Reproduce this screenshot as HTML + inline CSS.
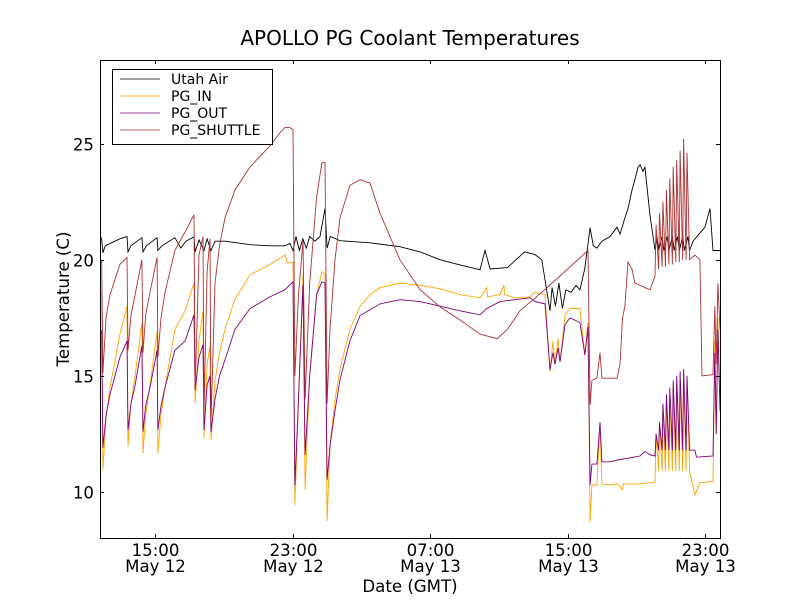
<!DOCTYPE html>
<html><head><meta charset="utf-8"><style>
body{margin:0;background:#fff;}
svg{display:block;font-family:"DejaVu Sans","Liberation Sans",sans-serif;}
</style></head><body>
<svg id="chart" width="800" height="600">
<rect width="800" height="600" fill="#fff"/>
<text x="410" y="45" font-size="20" text-anchor="middle">APOLLO PG Coolant Temperatures</text>
<g id="plot"></g>
<g id="axes"></g>
<text x="410" y="592" font-size="16.6" text-anchor="middle">Date (GMT)</text>
<text transform="translate(69,299) rotate(-90)" font-size="16.6" text-anchor="middle">Temperature (C)</text>
<g>
<rect x="112.5" y="69.5" width="160" height="75" fill="#fff" stroke="#000" stroke-width="1"/>
<line x1="120" x2="160" y1="79" y2="79" stroke="#000" stroke-width="0.8"/>
<text x="171" y="84" font-size="14">Utah Air</text>
<line x1="120" x2="160" y1="96" y2="96" stroke="#ffa500" stroke-width="0.8"/>
<text x="171" y="101" font-size="14">PG_IN</text>
<line x1="120" x2="160" y1="113" y2="113" stroke="#800080" stroke-width="0.8"/>
<text x="171" y="118" font-size="14">PG_OUT</text>
<line x1="120" x2="160" y1="130" y2="130" stroke="#b03030" stroke-width="0.8"/>
<text x="171" y="135" font-size="14">PG_SHUTTLE</text>
</g>
</svg>
<script>
// hours since May 12 00:00 GMT, temperature (C)
const xTickHours = [15, 23, 31, 39, 47];
const xTickTime = ["15:00", "23:00", "07:00", "15:00", "23:00"];
const xTickDay = ["May 12", "May 12", "May 13", "May 13", "May 13"];
const yTicks = [10, 15, 20, 25];

const utahAir = [[11.80,21.0],[11.90,20.9],[11.97,20.3],[12.1,20.6],[12.96,20.9],[13.37,21.0],[13.43,20.34],[13.6,20.6],[14.24,20.95],[14.30,20.34],[14.5,20.6],[15.12,20.95],[15.17,20.4],[15.4,20.6],[16.16,20.95],[16.5,20.5],[16.8,20.8],[17.27,20.99],[17.33,20.34],[17.56,20.85],[17.85,20.4],[18.03,20.9],[18.26,20.4],[18.49,20.8],[19.07,20.8],[20.53,20.65],[21.69,20.6],[22.56,20.6],[22.85,20.7],[23.03,20.4],[23.2,21.0],[23.4,20.4],[23.6,20.9],[23.8,20.5],[24.0,21.0],[24.3,20.8],[24.6,21.0],[24.89,22.2],[25.01,20.5],[25.2,21.0],[25.76,20.82],[27.51,20.73],[29.25,20.56],[30.42,20.34],[31.58,20.0],[32.74,19.78],[33.91,19.57],[34.2,20.4],[34.5,19.6],[35.5,19.66],[36.5,20.34],[37.11,20.22],[37.5,20.0],[37.98,17.8],[38.1,18.8],[38.3,18.0],[38.5,19.0],[38.7,17.9],[38.9,18.7],[39.2,18.6],[39.5,18.9],[39.72,18.7],[40.0,19.6],[40.31,21.38],[40.5,20.6],[40.71,20.5],[41.0,20.8],[41.47,21.0],[41.88,21.4],[42.05,21.1],[42.34,21.8],[42.52,22.2],[42.75,23.0],[42.92,23.45],[43.10,23.97],[43.22,24.09],[43.39,23.8],[43.50,24.0],[43.80,21.9],[44.09,20.43],[44.2,21.0],[44.3,20.4],[44.5,21.0],[44.6,20.4],[44.8,21.0],[44.9,20.4],[45.1,21.0],[45.2,20.4],[45.4,21.0],[45.5,20.4],[45.7,21.0],[45.8,20.4],[46.0,21.0],[46.1,20.4],[46.3,20.8],[46.99,21.4],[47.29,22.2],[47.46,20.4],[47.87,20.4]];

const pgIn = [[11.80,18.6],[11.90,18.5],[11.97,10.95],[12.15,13.2],[12.38,14.5],[12.96,16.8],[13.37,18.0],[13.43,11.98],[13.6,13.8],[13.84,15.0],[14.24,17.3],[14.30,11.68],[14.45,13.3],[14.71,14.6],[15.12,16.9],[15.17,11.68],[15.35,13.3],[15.58,14.5],[16.16,17.0],[16.75,17.8],[17.27,19.0],[17.33,13.84],[17.56,16.5],[17.79,17.8],[17.85,12.33],[18.03,15.5],[18.20,16.3],[18.26,12.24],[18.49,14.8],[18.75,16.0],[19.07,17.0],[19.65,18.3],[20.53,19.35],[21.69,19.8],[22.56,20.2],[22.7,19.85],[23.03,19.9],[23.14,9.44],[23.35,14],[23.61,19.35],[23.73,10.09],[24.0,15],[24.4,18.5],[24.71,19.5],[24.89,19.4],[25.01,8.75],[25.18,12.0],[25.47,13.97],[25.76,15.3],[26.34,17.0],[26.93,18.0],[27.51,18.5],[28.09,18.8],[29.25,19.0],[30.42,18.9],[31.58,18.75],[32.74,18.5],[33.91,18.36],[34.3,18.8],[34.35,18.4],[35.07,18.5],[35.3,18.9],[35.35,18.5],[35.94,18.36],[36.82,18.4],[37.11,18.6],[37.69,18.5],[37.98,15.17],[38.15,16.5],[38.27,15.5],[38.45,16.6],[38.56,15.6],[38.85,17.6],[39.14,17.9],[39.72,17.9],[40.01,15.9],[40.19,17.3],[40.31,8.71],[40.42,10.3],[40.71,10.3],[40.89,12.9],[41.0,10.35],[41.47,10.3],[41.88,10.35],[42.2,10.1],[42.25,10.35],[43.22,10.35],[43.80,10.4],[44.09,10.4],[44.15,12.5],[44.3,10.9],[44.35,13.0],[44.5,10.9],[44.55,13.5],[44.7,10.9],[44.75,14.0],[44.9,10.9],[44.95,14.2],[45.1,10.9],[45.15,14.5],[45.3,10.9],[45.35,14.8],[45.5,10.9],[45.55,15.0],[45.7,10.9],[45.75,15.2],[45.9,10.9],[45.95,15.0],[46.1,10.9],[46.41,9.87],[46.70,10.4],[47.46,10.45],[47.57,16.5],[47.65,12.5],[47.75,17.5],[47.87,14]];

const pgOut = [[11.80,17.0],[11.90,16.9],[11.97,11.9],[12.15,13.3],[12.38,14.2],[12.96,15.8],[13.37,16.5],[13.43,12.67],[13.6,13.8],[13.84,14.6],[14.24,16.3],[14.30,12.59],[14.45,13.7],[14.71,14.5],[15.12,16.1],[15.17,12.67],[15.35,13.7],[15.58,14.5],[16.16,16.1],[16.75,16.5],[17.27,17.63],[17.33,14.4],[17.56,15.8],[17.79,16.34],[17.85,12.67],[18.03,14.6],[18.20,15.0],[18.26,12.59],[18.49,14.0],[18.75,15.0],[19.07,15.69],[19.65,17.0],[20.53,17.9],[21.69,18.4],[22.56,18.71],[23.03,19.05],[23.14,10.3],[23.35,14],[23.61,18.92],[23.73,11.59],[24.0,15],[24.4,18.5],[24.71,19.05],[24.89,19.0],[25.01,10.52],[25.18,12.0],[25.47,13.5],[25.76,14.83],[26.34,16.5],[26.93,17.6],[28.09,18.1],[29.25,18.28],[30.42,18.2],[31.58,18.0],[32.74,17.8],[33.91,17.63],[34.3,17.9],[35.07,18.2],[35.94,18.28],[36.82,18.36],[37.11,18.2],[37.69,18.1],[37.98,15.26],[38.15,16.0],[38.27,15.5],[38.45,16.2],[38.56,15.6],[38.85,17.2],[39.14,17.5],[39.72,17.3],[40.01,15.9],[40.19,17.1],[40.31,10.3],[40.42,11.2],[40.71,11.2],[40.89,13.0],[41.0,11.3],[41.47,11.3],[42.05,11.4],[42.5,11.45],[43.22,11.55],[43.50,11.75],[43.80,11.6],[44.09,11.55],[44.15,12.5],[44.3,11.8],[44.35,13.0],[44.5,11.8],[44.55,13.8],[44.7,11.8],[44.75,14.2],[44.9,11.8],[44.95,14.5],[45.1,11.8],[45.15,14.8],[45.3,11.8],[45.35,15.0],[45.5,11.8],[45.55,15.2],[45.7,11.8],[45.75,15.3],[45.9,11.8],[45.95,15.0],[46.1,11.8],[46.41,11.8],[46.5,11.5],[47.46,11.55],[47.57,16],[47.65,12.5],[47.75,17.0],[47.87,13.5]];

const pgShuttle = [[11.80,20.0],[11.90,19.9],[11.97,15.13],[12.15,17.5],[12.38,18.5],[12.96,19.8],[13.37,20.1],[13.43,16.1],[13.6,17.6],[13.84,18.5],[14.24,20.0],[14.30,16.0],[14.45,17.6],[14.71,18.6],[15.12,20.1],[15.17,15.8],[15.35,17.5],[15.58,18.6],[16.16,20.4],[16.75,21.2],[17.27,21.94],[17.33,14.4],[17.56,20.2],[17.79,21.0],[17.85,13.5],[18.03,19.5],[18.20,20.9],[18.26,13.0],[18.49,19.0],[18.75,20.6],[19.07,21.8],[19.65,23.0],[20.53,24.0],[21.69,24.9],[22.3,25.5],[22.56,25.69],[22.85,25.69],[23.03,25.6],[23.14,15.0],[23.35,18.5],[23.61,20.8],[23.73,14.0],[24.0,19],[24.4,22.7],[24.71,24.18],[24.89,24.18],[25.01,13.8],[25.18,17],[25.47,20.0],[25.76,21.8],[26.34,23.2],[26.93,23.45],[27.51,23.3],[28.09,22.0],[29.25,20.0],[30.42,18.71],[31.58,17.97],[32.74,17.41],[33.91,16.8],[34.90,16.6],[35.5,17.0],[36.23,17.8],[37.5,18.6],[38.56,19.3],[40.19,20.4],[40.31,13.75],[40.42,14.8],[40.71,14.9],[40.89,16.0],[41.0,14.9],[41.88,14.9],[42.05,15.5],[42.20,17.5],[42.34,18.0],[42.52,19.9],[42.75,19.6],[42.92,19.0],[43.22,18.9],[43.80,18.7],[44.09,19.3],[44.15,21.5],[44.3,19.6],[44.35,22.0],[44.5,19.7],[44.55,22.5],[44.7,19.7],[44.75,23.0],[44.9,19.8],[44.95,23.5],[45.1,19.8],[45.15,24.0],[45.3,19.9],[45.35,24.3],[45.5,19.9],[45.55,24.7],[45.7,20.0],[45.75,25.2],[45.9,20.0],[45.95,24.6],[46.1,20.0],[46.41,20.2],[46.70,20.0],[46.82,15.0],[47.46,15.05],[47.57,18],[47.65,15.5],[47.75,19.0],[47.87,17]];

const L = 100, R = 720, T = 60, B = 538;
const X0 = 11.8, X1 = 47.87, Y0 = 8.02, Y1 = 28.6;
const sx = h => L + (h - X0) / (X1 - X0) * (R - L);
const sy = v => B - (v - Y0) / (Y1 - Y0) * (B - T);
const NS = "http://www.w3.org/2000/svg";
const plot = document.getElementById('plot');
const axes = document.getElementById('axes');

const clip = document.createElementNS(NS, 'clipPath');
clip.setAttribute('id', 'clipA');
const cr = document.createElementNS(NS, 'rect');
cr.setAttribute('x', L); cr.setAttribute('y', T); cr.setAttribute('width', R - L); cr.setAttribute('height', B - T);
clip.appendChild(cr); plot.appendChild(clip);

function drawSeries(data, color, name) {
  const p = document.createElementNS(NS, 'path');
  p.setAttribute('d', data.map((d, i) => (i ? 'L' : 'M') + sx(d[0]).toFixed(1) + ',' + sy(d[1]).toFixed(1)).join(''));
  p.setAttribute('fill', 'none'); p.setAttribute('stroke', color); p.setAttribute('stroke-width', '0.9');
  p.setAttribute('clip-path', 'url(#clipA)');
  
  
  plot.appendChild(p);
}
drawSeries(utahAir, '#000', 'series-utah-air');
drawSeries(pgIn, '#ffa500', 'series-pg-in');
drawSeries(pgOut, '#800080', 'series-pg-out');
drawSeries(pgShuttle, '#b03030', 'series-pg-shuttle');

const frame = document.createElementNS(NS, 'rect');
frame.setAttribute('x', L + 0.5); frame.setAttribute('y', T + 0.5);
frame.setAttribute('width', R - L); frame.setAttribute('height', B - T);
frame.setAttribute('fill', 'none'); frame.setAttribute('stroke', '#000');


axes.appendChild(frame);

function ln(x1, y1, x2, y2, name) {
  const l = document.createElementNS(NS, 'line');
  l.setAttribute('x1', x1); l.setAttribute('y1', y1); l.setAttribute('x2', x2); l.setAttribute('y2', y2);
  l.setAttribute('stroke', '#000');
  
  
  axes.appendChild(l);
}
function tx(x, y, s, anchor, name) {
  const t = document.createElementNS(NS, 'text');
  t.setAttribute('x', x); t.setAttribute('y', y); t.setAttribute('font-size', '16.6');
  t.setAttribute('text-anchor', anchor); t.textContent = s;
  
  
  axes.appendChild(t);
}
yTicks.forEach(v => {
  const y = Math.round(sy(v)) + 0.5;
  ln(L, y, L + 4, y, 'y-tick');
  ln(R - 4, y, R, y, 'y-tick-right');
  tx(L - 6, y + 6, String(v), 'end', 'y-tick-label');
});
xTickHours.forEach((h, i) => {
  const x = Math.round(sx(h)) + 0.5;
  ln(x, B, x, B - 4, 'x-tick');
  ln(x, T, x, T + 4, 'x-tick-top');
  tx(x, B + 18, xTickTime[i], 'middle', 'x-tick-label-time');
  tx(x, B + 34, xTickDay[i], 'middle', 'x-tick-label-day');
});
</script>
</body></html>
